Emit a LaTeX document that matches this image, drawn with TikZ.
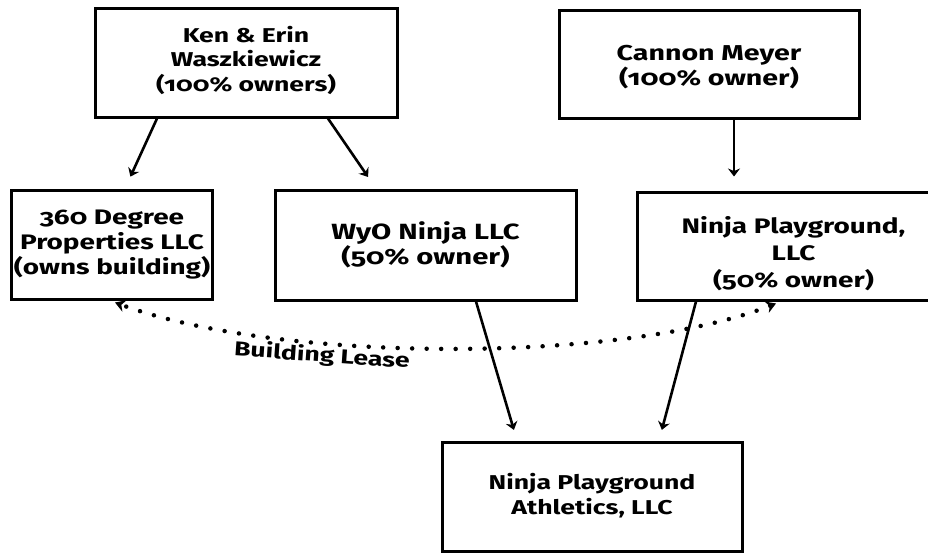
\documentclass[tikz,border=0pt]{standalone}
\usepackage{fontspec}
\setmainfont{Fira Sans}[Numbers=OldStyle, FakeStretch=1.33]
\usetikzlibrary{arrows.meta,calc}
\newcommand{\fs}[2]{\fontsize{#1}{#2}\selectfont\bfseries}
\tikzset{
  box/.style={draw=black, line width=3pt, fill=white, align=center,
    font=\fs{21}{25}, inner sep=2pt},
  arr/.style={line width=2.6pt, -{Stealth[length=8pt,width=12pt]}},
  lease/.style={line width=4.5pt, line cap=round, dash pattern=on 0pt off 14.5pt,
    {Stealth[length=10pt,width=12pt]}-{Stealth[length=10pt,width=12pt]}},
}
\begin{document}
\begin{tikzpicture}[x=1pt,y=-1pt]
\useasboundingbox (0,0) rectangle (928,552);
\clip (0,0) rectangle (928,552);
\fill[white] (0,0) rectangle (928,552);
\node[box, minimum width=302pt, minimum height=109pt, font=\fs{20}{24.5}] (ken) at (246,62.5)
  {Ken \& Erin\\Waszkiewicz\\(100\% owners)\rule[-8pt]{0pt}{0pt}};
\node[box, minimum width=300pt, minimum height=108pt, font=\fs{21.5}{25}] (cannon) at (709,64)
  {\rule{0pt}{22pt}Cannon Meyer\\(100\% owner)};
\node[box, minimum width=200pt, minimum height=109pt, font=\fs{21}{25}] (prop) at (112,244.5)
  {360 Degree\\Properties LLC\\(owns building)};
\node[box, minimum width=301pt, minimum height=110pt, font=\fs{22}{25}] (wyo) at (425.5,245)
  {WyO Ninja LLC\\(50\% owner)};
\node[box, minimum width=313pt, minimum height=108pt, font=\fs{21}{27}] (npl) at (793.5,246)
  {\rule{0pt}{33pt}Ninja Playground,\\LLC\\(50\% owner)};
\node[box, minimum width=300pt, minimum height=109pt, font=\fs{20}{25}] (npa) at (592,496.5)
  {Ninja Playground\\Athletics, LLC\rule[-6pt]{0pt}{0pt}};
\draw[arr, shorten >=13pt] ([xshift=-89pt]ken.south) -- ([xshift=13pt]prop.north);
\draw[arr, shorten >=14pt] ([xshift=82pt]ken.south) -- ([xshift=-49.5pt]wyo.north);
\draw[arr, shorten >=14pt] ([xshift=25pt]cannon.south) -- ([xshift=-59.5pt]npl.south |- npl.north);
\draw[arr, shorten >=11pt] ([xshift=50.5pt]wyo.south) -- ([xshift=-75pt]npa.north);
\draw[arr, shorten >=11pt] ([xshift=-97.5pt]npl.south) -- ([xshift=67pt]npa.north);
\draw[lease] ([xshift=-17.5pt,yshift=-2pt]npl.south) .. controls +(-154,60) and +(166,61) .. ([xshift=3pt,yshift=-2pt]prop.south);
\node[font=\fs{20}{20}, rotate=-4] (lbl) at (322,356) {Building Lease};
\end{tikzpicture}
\end{document}
